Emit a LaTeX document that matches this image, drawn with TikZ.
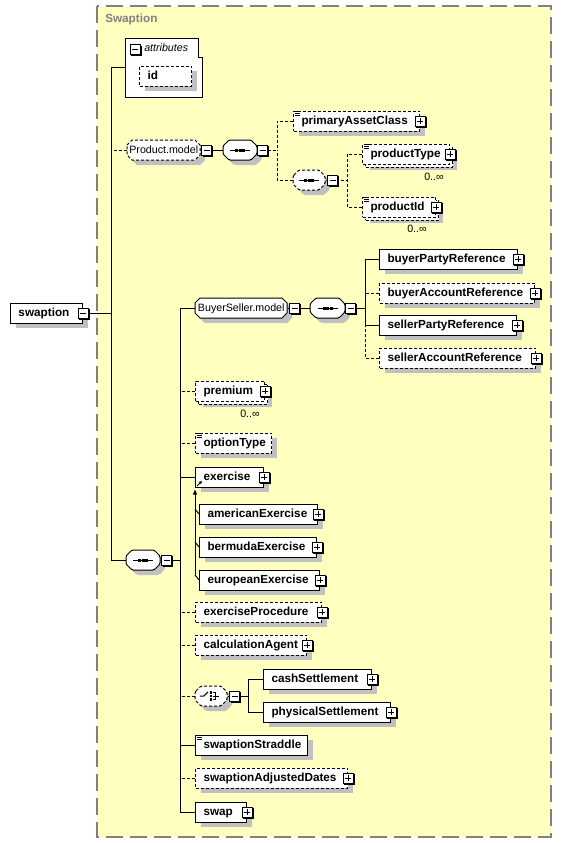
\documentclass[tikz,border=0pt]{standalone}
\usepackage{fontspec}
\setmainfont{Liberation Sans}
\usetikzlibrary{shadows,arrows.meta,calc}
\definecolor{frameyellow}{RGB}{255,255,192}
\definecolor{shgray}{RGB}{192,192,192}
\definecolor{framegray}{RGB}{128,128,128}
\newcommand\fntB{\fontsize{8.8}{10}\selectfont\bfseries}
\newcommand\fntR{\fontsize{8}{9}\selectfont}
\tikzset{
  ln/.style={line width=0.75pt},
  dsh/.style={dash pattern=on 2.25pt off 1.5pt},
  conn/.style={ln, draw=black},
  dconn/.style={ln, dsh, draw=black},
  elb/.style={rectangle, draw=black, fill=white, ln, anchor=west, inner xsep=6pt, inner ysep=0pt, minimum height=15pt, align=left, font=\fntB, text height=7.1pt, text depth=1.3pt},
  shad/.style={general shadow={fill=shgray, draw=none, shadow xshift=3.75pt, shadow yshift=-3.75pt}},
  multi/.style={general shadow={fill=shgray, draw=none, shadow xshift=5.25pt, shadow yshift=-4.5pt},
                general shadow={fill=white, draw=black, ln, dsh, shadow xshift=2.25pt, shadow yshift=-2.25pt}},
  mbtn/.pic={\fill[black] (-4,-4) rectangle (6.5,6.5);
             \filldraw[fill=white,draw=black,ln] (-5,-5) rectangle (5,5);
             \draw[ln] (-3,0) -- (3,0);},
  pbtn/.pic={\fill[black] (-4,-4) rectangle (6.5,6.5);
             \filldraw[fill=white,draw=black,ln] (-5,-5) rectangle (5,5);
             \draw[ln] (-3,0) -- (3,0) (0,-3) -- (0,3);},
  simp/.pic={\draw[line width=0.6pt] (1.5,1.3) -- (7,1.3) (1.5,3.3) -- (7,3.3) (1.5,5.3) -- (7,5.3);},
  seqsym/.pic={\draw[ln] (-10,0) -- (10,0);
               \foreach \dx in {-3.6,0,3.6} {\fill ({\dx-1.4},-1.5) rectangle ({\dx+1.4},1.5);}},
  chsym/.pic={\draw[ln] (-10,0) -- (-6,0) -- (-2,-4);
              \foreach \dy in {-3.5,0,3.5} {\fill (0,{\dy-1.2}) rectangle (2.4,{\dy+1.2});}
              \draw[ln] (3,-3.5) -- (5.5,-3.5) -- (5.5,3.5) -- (3,3.5) (3,0) -- (9,0);},
  subarr/.pic={\draw[line width=0.6pt,-{Triangle[length=2.2pt,width=2.2pt]}] (2,-1.5) -- (7,-6.5);}
}
% element box: #1 opts, #2 name, #3 left, #4 center y, #5 right, #6 text
\newcommand\elbox[6]{%
  \pgfmathsetmacro\ebw{(#5-#3)*0.75}\pgfmathsetmacro\ebt{(#5-#3)*0.75-12}%
  \node[elb, minimum width=\ebw pt, text width=\ebt pt, #1] (#2) at (#3,#4) {#6};}
% octagon path: left, cy, right, chamfer
\newcommand\octpath[4]{(#1,{#2-10+#4}) -- ({#1+#4},{#2-10}) -- ({#3-#4},{#2-10}) -- (#3,{#2-10+#4}) -- (#3,{#2+10-#4}) -- ({#3-#4},{#2+10}) -- ({#1+#4},{#2+10}) -- (#1,{#2+10-#4}) -- cycle}
% group hexagon: #1 opts, #2 name, #3 left, #4 cy, #5 right, #6 chamfer, #7 text
\newcommand\hexg[7]{%
  \fill[shgray, shift={(5,5)}, #1, draw=none] \octpath{#3}{#4}{#5}{#6};
  \filldraw[fill=white, draw=black, ln, #1] \octpath{#3}{#4}{#5}{#6};
  \pgfmathsetmacro\hexw{(#5-#3)*0.75}%
  \node[inner sep=0pt, minimum width=\hexw pt, minimum height=15pt, anchor=west, font=\fntR, text height=6.4pt, text depth=1.4pt] (#2) at (#3,#4) {#7};}

\begin{document}
\begin{tikzpicture}[x=0.75pt,y=-0.75pt]
\useasboundingbox (0,0) rectangle (562,843);
\filldraw[fill=frameyellow, draw=framegray, line width=1.1pt, dash pattern=on 12.75pt off 5.25pt] (97,6) rectangle (551,837);
\node[anchor=west, font=\fntB, text=framegray, inner sep=0pt] (title) at (105,19) {Swaption};

% ---- attributes
\filldraw[fill=white, draw=black, ln] (125,38) -- (198,38) -- (198,57) -- (202,57) -- (202,97) -- (125,97) -- cycle;
\node[inner sep=0pt, minimum width=57.75pt, minimum height=44.25pt, anchor=north west] (attrs) at (125,38) {};
\node[anchor=west, font=\fntR\itshape, inner sep=0pt] (attrlbl) at (144,48) {attributes};
\elbox{dsh, shad}{id}{139}{76}{191}{id}

% ---- root
\elbox{shad}{swaption}{10}{313}{82}{swaption}

% ---- Product.model
\hexg{dsh}{prodmodel}{127}{150}{200}{5}{Product.model}
\hexg{rounded corners=1pt}{pmseq}{223}{150}{257}{6}{}
\elbox{dsh, shad}{pac}{293}{121}{419}{primaryAssetClass}
\hexg{dsh, rounded corners=1pt}{pmseqb}{293}{180}{325}{6}{}
\elbox{dsh, multi}{ptype}{362}{154}{449}{productType}
\elbox{dsh, multi}{pid}{362}{207}{435}{productId}
\node[font=\fntR, inner sep=0pt] (ptypeocc) at (434,177) {0..∞};
\node[font=\fntR, inner sep=0pt] (pidocc) at (417,229) {0..∞};

% ---- main sequence
\hexg{rounded corners=1pt}{mainseq}{126}{560}{160}{6}{}

% ---- BuyerSeller.model
\hexg{}{bsmodel}{195}{308}{287}{5}{BuyerSeller.model}
\hexg{rounded corners=1pt}{bsseq}{310}{308}{345}{6}{}
\elbox{shad}{bpr}{379}{259}{517}{buyerPartyReference}
\elbox{dsh, shad}{bar}{379}{293}{534}{buyerAccountReference}
\elbox{shad}{spr}{379}{325}{516}{sellerPartyReference}
\elbox{dsh, shad}{sar}{379}{358}{535}{sellerAccountReference}

% ---- other children
\elbox{dsh, multi}{premium}{195}{391}{264}{premium}
\node[font=\fntR, inner sep=0pt] (premocc) at (250,414) {0..∞};
\elbox{dsh, shad}{otype}{195}{443}{271}{optionType}
\elbox{shad}{exercise}{195}{477}{263}{exercise}
\elbox{shad}{amex}{199}{514}{317}{americanExercise}
\elbox{shad}{bmex}{199}{547}{316}{bermudaExercise}
\elbox{shad}{euex}{199}{580}{319}{europeanExercise}
\elbox{dsh, shad}{exproc}{195}{612}{321}{exerciseProcedure}
\elbox{dsh, shad}{calc}{195}{645}{306}{calculationAgent}
\hexg{dsh, rounded corners=1pt}{choice}{195}{696}{227}{6}{}
\elbox{shad}{cash}{263}{679}{371}{cashSettlement}
\elbox{shad}{phys}{263}{712}{390}{physicalSettlement}
\elbox{shad}{straddle}{195}{745}{307}{swaptionStraddle}
\elbox{dsh, shad}{adj}{195}{778}{347}{swaptionAdjustedDates}
\elbox{shad}{swap}{195}{812}{246}{swap}

% ---- junction coordinates
\coordinate (s1) at (111,313);
\coordinate (s2) at (180,560);
\coordinate (s3) at (277,150);
\coordinate (s4) at (347,180);
\coordinate (s5) at (365,308);
\coordinate (s6) at (248,696);
\coordinate (sgb) at (195,575);

% ---- connectors
\draw[conn] (swaption.east) -- (s1);
\draw[conn] (attrs.west) -| (s1);
\draw[conn] (mainseq.west) -| (s1);
\draw[dconn] (prodmodel.west) -- (prodmodel.west -| s1);
\draw[conn] (prodmodel.east) -- (pmseq.west);
\draw[dconn] (pmseq.east) -- (s3);
\draw[dconn] (pac.west) -| (s3);
\draw[dconn] (pmseqb.west) -| (s3);
\draw[dconn] (pmseqb.east) -- (s4);
\draw[dconn] (ptype.west) -| (s4);
\draw[dconn] (pid.west) -| (s4);

\draw[conn] (mainseq.east) -- (s2);
\draw[conn] (bsmodel.west) -| (s2);
\draw[conn] (swap.west) -| (s2);
\draw[dconn] (premium.west) -- (premium.west -| s2);
\draw[dconn] (otype.west) -- (otype.west -| s2);
\draw[conn] (exercise.west) -- (exercise.west -| s2);
\draw[dconn] (exproc.west) -- (exproc.west -| s2);
\draw[dconn] (calc.west) -- (calc.west -| s2);
\draw[dconn] (choice.west) -- (choice.west -| s2);
\draw[conn] (straddle.west) -- (straddle.west -| s2);
\draw[dconn] (adj.west) -- (adj.west -| s2);

\draw[conn] (bsmodel.east) -- (bsseq.west);
\draw[conn] (bsseq.east) -- (s5);
\draw[conn] (bpr.west) -| (s5);
\draw[conn] (spr.west) -| (s5);
\draw[dconn] (bar.west) -- (bar.west -| s5);
\draw[dconn] (sar.west) -| (s5);

\draw[conn] (choice.east) -- (s6);
\draw[conn] (cash.west) -| (s6);
\draw[conn] (phys.west) -| (s6);

\draw[conn, -{Triangle[length=3.75pt,width=3pt]}] (sgb) -- ([yshift=-1.5pt]exercise.south west);
\draw[conn] (amex.west) -- ++(-4,-5);
\draw[conn] (bmex.west) -- ++(-4,-5);
\draw[conn] (euex.west) -- ++(-4,-5);

% ---- symbols and buttons
\pic at (pmseq.center) {seqsym};
\pic at (pmseqb.center) {seqsym};
\pic at (mainseq.center) {seqsym};
\pic at (bsseq.center) {seqsym};
\pic at ([xshift=-1pt]choice.center) {chsym};

\pic at (135,49.5) {mbtn};
\pic at (swaption.east) {mbtn};
\pic at ([xshift=4.5pt]prodmodel.east) {mbtn};
\pic at ([xshift=3.75pt]pmseq.east) {mbtn};
\pic at ([xshift=5.25pt]pmseqb.east) {mbtn};
\pic at ([xshift=4.5pt]mainseq.east) {mbtn};
\pic at ([xshift=5.25pt]bsmodel.east) {mbtn};
\pic at ([xshift=3.75pt]bsseq.east) {mbtn};
\pic at ([xshift=5.25pt]choice.east) {mbtn};

\foreach \n in {pac,ptype,pid,bpr,bar,spr,sar,premium,exercise,amex,bmex,euex,exproc,calc,cash,phys,adj,swap}
  {\pic at (\n.east) {pbtn};}
\foreach \n in {pac,ptype,pid,otype,straddle}
  {\pic at (\n.north west) {simp};}
\pic at (exercise.south west) {subarr};
\end{tikzpicture}
\end{document}
